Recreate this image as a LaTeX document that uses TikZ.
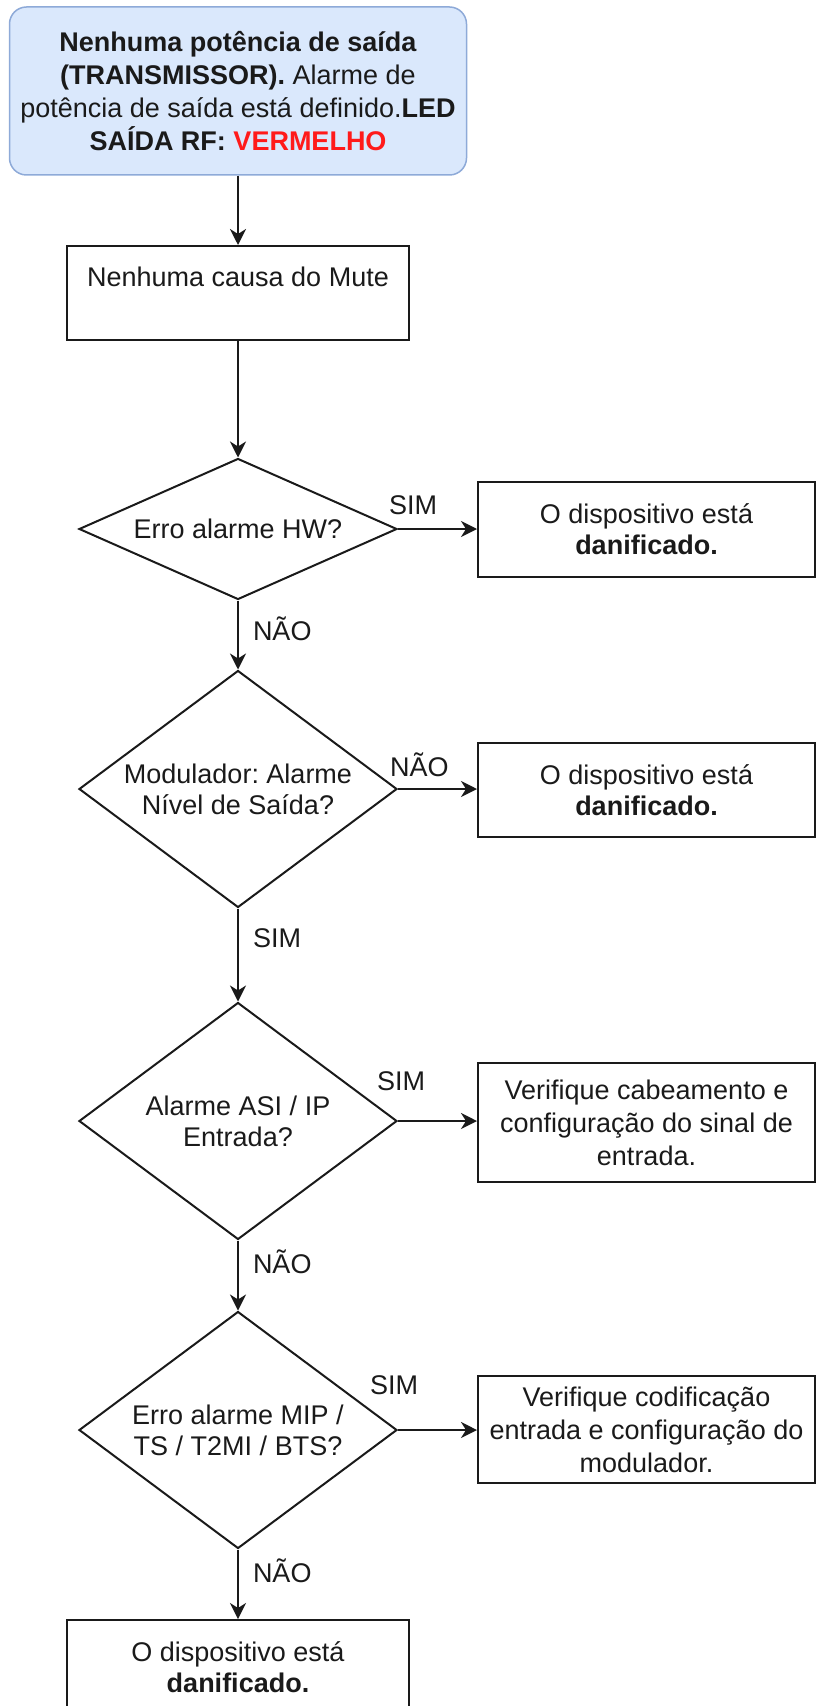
\documentclass[tikz,border=0pt]{standalone}
\usepackage{fontspec}
\setmainfont{Liberation Sans}
\frenchspacing
\usetikzlibrary{shapes.geometric,arrows.meta}
\definecolor{boxblue}{HTML}{DAE8FC}
\definecolor{boxblueline}{HTML}{8EAAD8}
\definecolor{alarmred}{HTML}{FF1A1A}
\definecolor{ink}{HTML}{1A1A1A}
\begin{document}
\begin{tikzpicture}[x=0.5pt,y=-0.5pt,
  every node/.style={font=\fontsize{13.5}{15.5}\selectfont, text=ink},
  procbox/.style={draw=ink, line width=1pt, rectangle, inner sep=0pt},
  decision/.style={draw=ink, line width=1pt, diamond, align=center, inner sep=0pt, minimum width=159pt},
  flow/.style={draw=ink, line width=1pt, -{Stealth[length=8pt,width=8pt,inset=2.5pt]}},
  lbl/.style={inner sep=0pt, text=ink},
]
\path[use as bounding box, clip] (0,0) rectangle (816,1706);

% top terminal
\node[draw=boxblueline, fill=boxblue, rounded corners=8.5pt, line width=0.75pt,
      minimum width=228.5pt, minimum height=84pt, align=center, inner sep=0pt,
      font=\fontsize{13.5}{16.5}\selectfont] (start) at (238,91)
  {\textbf{Nenhuma potência de saída}\\\textbf{(TRANSMISSOR).} Alarme de\\potência de saída está definido.\textbf{LED}\\\textbf{SAÍDA RF: \textcolor{alarmred}{VERMELHO}}};

\node[procbox, minimum width=171pt, anchor=north, text height=20.5pt, text depth=26.5pt] (mute) at (238,245) {Nenhuma causa do Mute};

% decisions
\node[decision, minimum height=70.5pt, shape aspect=2.5] (d1) at (238,529) {Erro alarme HW?};
\node[decision, minimum height=118.5pt, shape aspect=1.4] (d2) at (238,789) {Modulador: Alarme\\Nível de Saída?};
\node[decision, minimum height=118.5pt, shape aspect=1.4] (d3) at (238,1121) {Alarme ASI / IP\\Entrada?};
\node[decision, minimum height=118.5pt, shape aspect=1.4] (d4) at (238,1430) {Erro alarme MIP /\\TS / T2MI / BTS?};

% results
\node[procbox, align=center, minimum width=168.5pt, minimum height=47.5pt] (r1) at (646.5,529.5) {O dispositivo está\\\textbf{danificado.}};
\node[procbox, align=center, minimum width=168.5pt, minimum height=47pt] (r2) at (646.5,790) {O dispositivo está\\\textbf{danificado.}};
\node[procbox, align=center, minimum width=168.5pt, minimum height=59.5pt, font=\fontsize{13.5}{16.5}\selectfont] (r3) at (646.5,1122.5) {Verifique cabeamento e\\configuração do sinal de\\entrada.};
\node[procbox, align=center, minimum width=168.5pt, minimum height=53.5pt, font=\fontsize{13.5}{16.5}\selectfont] (r4) at (646.5,1429.5) {Verifique codificação\\entrada e configuração do\\modulador.};
\node[procbox, align=center, minimum width=171pt, minimum height=47pt, anchor=north] (end) at (238,1619) {O dispositivo está\\\textbf{danificado.}};

% connectors
\draw[flow] (start.south) -- (mute.north);
\draw[flow] (mute.south) -- (d1.north);
\draw[flow] (d1.east) -- node[lbl, pos=0.19, yshift=12pt] {SIM} (r1.west |- d1.east);
\draw[flow] (d1.south) -- node[lbl, anchor=west, pos=0.41, xshift=7pt] {NÃO} (d2.north);
\draw[flow] (d2.east) -- node[lbl, pos=0.27, yshift=12pt] {NÃO} (r2.west |- d2.east);
\draw[flow] (d2.south) -- node[lbl, anchor=west, pos=0.32, xshift=7pt] {SIM} (d3.north);
\draw[flow] (d3.east) -- node[lbl, pos=0.04, yshift=20pt] {SIM} (r3.west |- d3.east);
\draw[flow] (d3.south) -- node[lbl, anchor=west, pos=0.31, xshift=7pt] {NÃO} (d4.north);
\draw[flow] (d4.east) -- node[lbl, pos=0, xshift=-2pt, yshift=22.5pt] {SIM} (r4.west |- d4.east);
\draw[flow] (d4.south) -- node[lbl, anchor=west, pos=0.3, xshift=7pt] {NÃO} (end.north);
\end{tikzpicture}
\end{document}
